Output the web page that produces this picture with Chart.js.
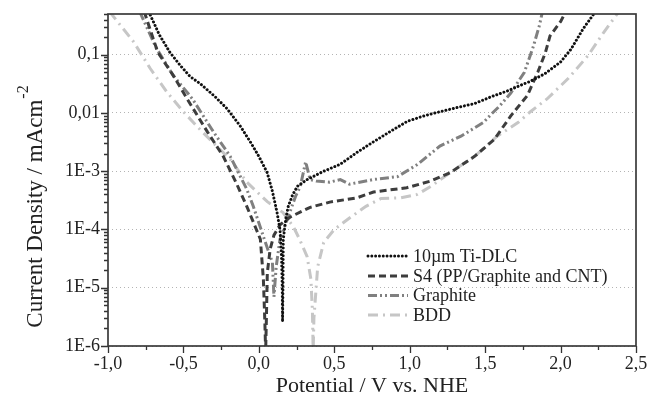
<!DOCTYPE html>
<html><head><meta charset="utf-8">
<script src="https://cdn.jsdelivr.net/npm/chart.js@4.4.0/dist/chart.umd.min.js"></script>
<style>html,body{margin:0;padding:0;background:#fff;}</style>
</head><body>
<canvas id="c" width="647" height="400"></canvas>
<script>
// ---- data (potential V vs NHE, current density mA/cm^2) ----
const seriesLabels = ['10\u00b5m Ti-DLC', 'S4 (PP/Graphite and CNT)', 'Graphite', 'BDD'];

const tiDlcV = [-0.73,-0.66,-0.59,-0.52,-0.455,-0.39,-0.29,-0.21,-0.124,-0.057,0.0,0.055,0.09,0.12,0.14,0.15,0.155,0.157,0.16,0.162,0.18,0.195,0.225,0.255,0.32,0.43,0.54,0.65,0.76,0.87,0.985,1.1,1.2,1.32,1.43,1.54,1.65,1.75,1.8,1.9,2.0,2.07,2.15,2.22,2.25];
const tiDlcI = [0.55,0.22,0.11,0.065,0.042,0.032,0.019,0.0118,0.006,0.0032,0.0018,0.00095,4.5e-4,2e-4,1e-4,3.5e-5,1e-5,2.6e-6,1e-5,6.8e-5,1.6e-4,2.5e-4,4e-4,5.5e-4,7.2e-4,1e-3,1.32e-3,2.1e-3,3.2e-3,4.8e-3,7.2e-3,9e-3,0.0105,0.0125,0.0145,0.019,0.024,0.031,0.035,0.048,0.075,0.125,0.28,0.5,0.6];

const s4V = [-0.76,-0.67,-0.57,-0.475,-0.34,-0.236,-0.15,-0.08,-0.02,0.01,0.03,0.04,0.045,0.05,0.056,0.075,0.1,0.14,0.21,0.34,0.47,0.65,0.76,0.98,1.14,1.27,1.43,1.56,1.67,1.78,1.85,1.9,1.93,2.0,2.03,2.05];
const s4I = [0.55,0.11,0.045,0.0174,0.0047,0.0018,6.3e-4,2.5e-4,1.05e-4,6.8e-5,1.4e-5,2.5e-6,8e-7,3e-6,1.8e-5,4.6e-5,8e-5,1.2e-4,1.65e-4,2.4e-4,2.95e-4,3.5e-4,4.4e-4,5.2e-4,6.8e-4,9.5e-4,1.8e-3,3.5e-3,8.9e-3,0.02,0.051,0.11,0.21,0.37,0.52,0.6];

const graphiteV = [-0.79,-0.68,-0.57,-0.44,-0.3,-0.19,-0.08,-0.037,0.03,0.09,0.1,0.115,0.14,0.195,0.243,0.275,0.31,0.34,0.38,0.47,0.54,0.6,0.76,0.92,1.05,1.2,1.34,1.49,1.54,1.6,1.67,1.76,1.82,1.86,1.88];
const graphiteI = [0.55,0.13,0.045,0.0174,0.0047,0.0018,4.9e-4,2.5e-4,7.6e-5,2.7e-5,7e-6,2.3e-5,6.8e-5,1.66e-4,3.7e-4,5.5e-4,1.45e-3,7.2e-4,6.8e-4,6.5e-4,7.2e-4,6e-4,7.2e-4,8.1e-4,1.3e-3,2.7e-3,4e-3,6.9e-3,9.5e-3,0.0135,0.022,0.05,0.14,0.32,0.55];

const bddV = [-0.99,-0.83,-0.72,-0.61,-0.5,-0.39,-0.28,-0.19,-0.08,0.056,0.16,0.23,0.27,0.32,0.345,0.355,0.36,0.365,0.39,0.43,0.5,0.59,0.71,0.81,0.94,1.05,1.14,1.27,1.43,1.58,1.72,1.8,1.91,2.05,2.18,2.29,2.38,2.4];
const bddI = [0.55,0.166,0.058,0.023,0.0105,0.0052,0.0027,0.0016,6.5e-4,3e-4,1.95e-4,1.1e-4,6.8e-5,3.4e-5,1.4e-5,4e-6,8e-7,3e-6,2.3e-5,6e-5,1e-4,1.5e-4,2.5e-4,3.4e-4,3.5e-4,4e-4,5.5e-4,9.5e-4,1.8e-3,4e-3,6.9e-3,0.0105,0.0174,0.039,0.095,0.25,0.52,0.6];

const xTickValues = [-1.0,-0.5,0.0,0.5,1.0,1.5,2.0,2.5];
const xTickLabels = ['-1,0','-0,5','0,0','0,5','1,0','1,5','2,0','2,5'];
const yTickValues = [1e-6,1e-5,1e-4,1e-3,0.01,0.1];
const yTickLabels = ['1E-6','1E-5','1E-4','1E-3','0,01','0,1'];
const xTitle = 'Potential / V vs. NHE';
const yTitleMain = 'Current Density / mAcm';
const yTitleSup = '-2';

// ---- build ----
const pts = (xs, ys) => xs.map((x, i) => ({x: x, y: ys[i]}));
const FONT = '"Liberation Serif", "Times New Roman", serif';

const datasets = [
  {label: seriesLabels[0], data: pts(tiDlcV, tiDlcI), borderColor: '#111111', borderWidth: 3, borderDash: [0.01, 3.8], borderCapStyle: 'round'},
  {label: seriesLabels[1], data: pts(s4V, s4I), borderColor: '#3d3d3d', borderWidth: 3, borderDash: [7, 4], borderCapStyle: 'butt'},
  {label: seriesLabels[2], data: pts(graphiteV, graphiteI), borderColor: '#808080', borderWidth: 3, borderDash: [9, 3, 2, 3, 2, 3], borderCapStyle: 'butt'},
  {label: seriesLabels[3], data: pts(bddV, bddI), borderColor: '#c6c6c6', borderWidth: 3, borderDash: [10, 5, 2, 5], borderCapStyle: 'butt'}
].map(d => Object.assign(d, {showLine: true, pointRadius: 0, tension: 0, fill: false}));

const decorPlugin = {
  id: 'decor',
  afterDraw(chart) {
    const ctx = chart.ctx, a = chart.chartArea;
    const xs = chart.scales.x, ys = chart.scales.y;
    ctx.save();
    // tick marks
    ctx.strokeStyle = '#333'; ctx.lineWidth = 1.3;
    ctx.beginPath();
    for (let e = -6; e <= -1; e++) {
      for (let k = 1; k <= 9; k++) {
        const v = k * Math.pow(10, e);
        if (v > ys.max) break;
        const py = Math.round(ys.getPixelForValue(v)) + 0.5;
        const len = k === 1 ? 7 : 4;
        ctx.moveTo(a.left - len, py); ctx.lineTo(a.left, py);
      }
    }
    for (let i = 0; i <= 14; i++) {
      const v = -1 + i * 0.25;
      const px = Math.round(xs.getPixelForValue(v)) + 0.5;
      const len = i % 2 === 0 ? 7 : 4;
      ctx.moveTo(px, a.bottom); ctx.lineTo(px, a.bottom + len);
    }
    ctx.stroke();
    // frame
    ctx.strokeStyle = '#3a3a3a'; ctx.lineWidth = 1.7;
    ctx.strokeRect(a.left, a.top, a.right - a.left, a.bottom - a.top);
    // legend
    const lx = 368, llen = 40, tx = 413;
    const rows = [256, 276, 295.5, 315];
    ctx.font = '18px ' + FONT;
    ctx.textBaseline = 'middle'; ctx.textAlign = 'left';
    chart.data.datasets.forEach((d, i) => {
      const y = rows[i];
      ctx.save();
      ctx.strokeStyle = d.borderColor; ctx.lineWidth = d.borderWidth;
      ctx.setLineDash(d.borderDash); ctx.lineCap = d.borderCapStyle;
      ctx.beginPath(); ctx.moveTo(lx, y); ctx.lineTo(lx + llen, y); ctx.stroke();
      ctx.restore();
      ctx.fillStyle = '#222';
      ctx.fillText(d.label, tx, y + 1);
    });
    // x title
    ctx.font = '22px ' + FONT; ctx.fillStyle = '#222';
    ctx.textAlign = 'center'; ctx.textBaseline = 'middle';
    ctx.fillText(xTitle, (a.left + a.right) / 2, 386);
    // y title with superscript
    ctx.save();
    ctx.translate(36, 207);
    ctx.rotate(-Math.PI / 2);
    ctx.font = '23px ' + FONT;
    const w1 = ctx.measureText(yTitleMain).width;
    ctx.font = '16px ' + FONT;
    const w2 = ctx.measureText(yTitleSup).width;
    const start = -(w1 + w2) / 2;
    ctx.textAlign = 'left'; ctx.textBaseline = 'middle';
    ctx.font = '23px ' + FONT;
    ctx.fillText(yTitleMain, start, 0);
    ctx.font = '16px ' + FONT;
    ctx.fillText(yTitleSup, start + w1 + 1, -12);
    ctx.restore();
    ctx.restore();
  }
};

new Chart(document.getElementById('c'), {
  type: 'scatter',
  data: {datasets: datasets},
  options: {
    responsive: false,
    animation: false,
    devicePixelRatio: 1,
    layout: {padding: {top: 14, right: 11, left: 0, bottom: 0}},
    plugins: {legend: {display: false}, tooltip: {enabled: false}},
    scales: {
      x: {
        type: 'linear', min: -1, max: 2.5,
        afterBuildTicks: s => { s.ticks = xTickValues.map(v => ({value: v})); },
        afterFit: s => { s.height = 54; s.paddingLeft = 0; s.paddingRight = 0; },
        ticks: {
          padding: 7, color: '#222', font: {family: FONT, size: 18}, maxRotation: 0,
          callback: (v) => { const i = xTickValues.findIndex(t => Math.abs(t - v) < 1e-9); return i >= 0 ? xTickLabels[i] : ''; }
        },
        grid: {display: false, drawTicks: false},
        border: {display: false}
      },
      y: {
        type: 'logarithmic', min: 1e-6, max: 0.5,
        afterBuildTicks: s => { s.ticks = yTickValues.map(v => ({value: v})); },
        afterFit: s => { s.width = 108; s.paddingTop = 0; s.paddingBottom = 0; },
        ticks: {
          padding: 8, color: '#222', font: {family: FONT, size: 18},
          callback: (v) => { const i = yTickValues.findIndex(t => Math.abs(t - v) / t < 1e-6); return i >= 0 ? yTickLabels[i] : ''; }
        },
        grid: {drawTicks: false, color: '#b4b4b4', lineWidth: 1},
        border: {display: false, dash: [1, 3]}
      }
    }
  },
  plugins: [decorPlugin]
});
</script>
</body></html>
